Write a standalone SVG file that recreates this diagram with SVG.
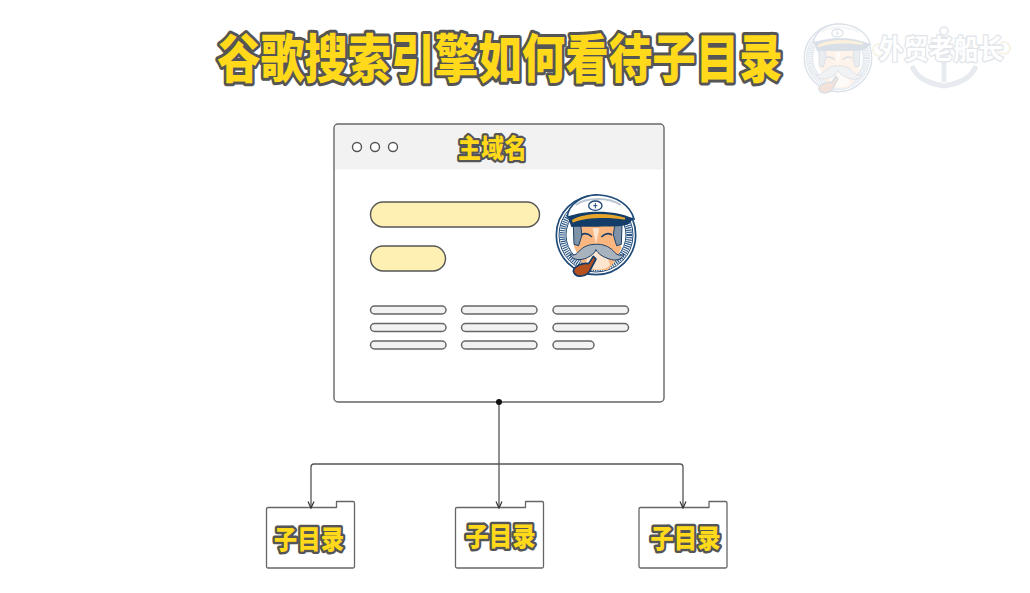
<svg xmlns="http://www.w3.org/2000/svg" width="1030" height="593" viewBox="0 0 1030 593">
<style>
text{font-family:"Noto Sans CJK SC","Noto Sans",sans-serif;font-weight:900;text-anchor:middle;paint-order:stroke;stroke-linejoin:round}
.hl{fill:#ffd91a;stroke:#555}
.t1{font-size:43.500px;stroke-width:5px}
.t2{font-size:23px;stroke-width:4px}
.t3{font-size:23.500px;stroke-width:4.500px}
.wm{font-size:25px;font-weight:700;fill:#fff;stroke:#e2e6ea;stroke-width:2.500px}
.win{fill:#fff;stroke:#666;stroke-width:1.400}
.dot{fill:#fff;stroke:#555;stroke-width:1.400}
.big{fill:#fdf0b2;stroke:#555;stroke-width:1.400}
.ln{fill:#f2f2f2;stroke:#666;stroke-width:1.500}
.folder{fill:#fff;stroke:#666;stroke-width:1.300;stroke-linejoin:round}
.conn{fill:none;stroke:#555;stroke-width:1.300}
</style>
<defs>
<marker id="arr" markerWidth="10" markerHeight="10" refX="8" refY="5" orient="auto" markerUnits="userSpaceOnUse">
<path d="M1.500,2 L8,5 L1.500,8" fill="none" stroke="#333" stroke-width="1.200"/>
</marker>
<g id="captain" transform="scale(.3333) translate(-150,-150)">
<circle cx="150" cy="150" r="119" fill="#fff" stroke="#1f4a78" stroke-width="5"/>
<circle cx="150" cy="150" r="111" fill="none" stroke="#1f4a78" stroke-width="3"/>
<circle cx="150" cy="150" r="100" fill="none" stroke="#2a5584" stroke-width="17" stroke-dasharray="3.500 3"/>
<circle cx="150" cy="150" r="90" fill="none" stroke="#1f4a78" stroke-width="3"/>
<path d="M88,122 L216,122 L226,190 L205,232 L185,255 L130,255 L102,225 L84,185Z" fill="#fbb77f"/>
<path d="M82,122 L104,122 L108,150 L98,182 L84,178Z M206,122 L228,122 L226,178 L212,182 L202,150Z" fill="#7f93a8" stroke="#1b3f68" stroke-width="3"/>
<path d="M125,198 C140,192 165,192 178,198 L192,240 C180,258 135,258 120,240Z" fill="#fde5cf"/>
<path d="M106,150 Q122,140 138,156 M166,156 Q182,140 198,150" fill="none" stroke="#1b3f68" stroke-width="5"/>
<path d="M140,130 L150,178 L160,130" fill="#fde5cf"/>
<path d="M148,178 C130,178 112,184 98,200 C88,212 78,212 72,206 C76,226 104,228 124,218 C136,212 146,204 150,194 C156,206 170,216 190,222 C208,228 226,226 234,208 C222,214 212,210 202,198 C190,184 168,176 148,178Z" fill="#a9b3bd" stroke="#1b3f68" stroke-width="3"/>
<path d="M64,96 C66,58 112,27 160,30 C212,33 254,62 264,102 C225,92 110,84 64,96Z" fill="#fff" stroke="#1f4a78" stroke-width="5"/>
<path d="M90,60 C120,36 190,36 224,60" fill="none" stroke="#b9c5d1" stroke-width="6"/>
<ellipse cx="148" cy="62" rx="20" ry="14" fill="#fff" stroke="#1f4a78" stroke-width="4"/>
<path d="M148,54 V70 M142,62 H154" stroke="#1f4a78" stroke-width="3"/>
<path d="M66,96 C110,74 215,74 262,102 L246,118 C235,128 110,124 76,126Z" fill="#143c68"/>
<path d="M78,105 C115,82 190,82 238,98 L236,104 C190,96 120,96 80,113Z" fill="#e7a52b"/>
<path d="M82,258 C84,244 110,232 128,236 L142,214 L150,222 L134,252 C126,276 88,282 82,258Z" fill="#b5501f" stroke="#143c68" stroke-width="5" stroke-linejoin="round"/>
</g>
</defs>
<g id="title"><text class="hl t1" transform="translate(500,78) scale(1,1.2)">谷歌搜索引擎如何看待子目录</text></g>
<g id="watermark">
<g opacity=".2" fill="none"><path d="M944,36 V82 M912,66 Q918,82 944,86 Q970,82 976,66" stroke="#8aa0b3" stroke-width="5"/><circle cx="944" cy="31" r="4" stroke="#8aa0b3" stroke-width="2"/><circle cx="879" cy="50" r="6" stroke="#e0c890" stroke-width="2"/><circle cx="1004" cy="48" r="6" stroke="#e0c890" stroke-width="2"/></g>
<use href="#captain" transform="translate(838,58) scale(.85)" opacity=".16"/>
<text class="wm" transform="translate(941,59) scale(1,1.1)">外贸老船长</text>
</g>
<g id="main-window">
<rect class="win" x="334" y="124" width="330" height="278" rx="4"/>
<path d="M335,169.500 V128 Q335,125 338,125 H660 Q663,125 663,128 V169.500Z" fill="#f2f2f2"/>
<circle class="dot" cx="357" cy="147" r="4.500"/>
<circle class="dot" cx="375" cy="147" r="4.500"/>
<circle class="dot" cx="393" cy="147" r="4.500"/>
<text class="hl t2" transform="translate(492.500,158) scale(1,1.12)">主域名</text>
<rect class="big" x="370.500" y="202" width="169" height="25" rx="12.500"/>
<rect class="big" x="370.500" y="246" width="75" height="25" rx="12.500"/>
<rect class="ln" x="370.500" y="306" width="75.500" height="8" rx="4"/>
<rect class="ln" x="461.500" y="306" width="75.500" height="8" rx="4"/>
<rect class="ln" x="553" y="306" width="75.500" height="8" rx="4"/>
<rect class="ln" x="370.500" y="323.500" width="75.500" height="8" rx="4"/>
<rect class="ln" x="461.500" y="323.500" width="75.500" height="8" rx="4"/>
<rect class="ln" x="553" y="323.500" width="75.500" height="8" rx="4"/>
<rect class="ln" x="370.500" y="341" width="75.500" height="8" rx="4"/>
<rect class="ln" x="461.500" y="341" width="75.500" height="8" rx="4"/>
<rect class="ln" x="553" y="341" width="41" height="8" rx="4"/>
<use href="#captain" transform="translate(596,235)"/>
</g>
<g id="folder-left">
<path class="folder" d="M266.500,509 Q266.500,507.500 268,507.500 H336.500 V501.500 H353 Q354.500,501.500 354.500,503 V566.500 Q354.500,568 353,568 H268 Q266.500,568 266.500,566.500Z"/>
<text class="hl t3" transform="translate(309,549) scale(1,1.12)">子目录</text>
</g>
<g id="folder-center">
<path class="folder" d="M455.500,509 Q455.500,507.500 457,507.500 H525.500 V501.500 H542 Q543.500,501.500 543.500,503 V566.500 Q543.500,568 542,568 H457 Q455.500,568 455.500,566.500Z"/>
<text class="hl t3" transform="translate(500.500,546) scale(1,1.12)">子目录</text>
</g>
<g id="folder-right">
<path class="folder" d="M639,509 Q639,507.500 640.500,507.500 H709 V501.500 H725.500 Q727,501.500 727,503 V566.500 Q727,568 725.500,568 H640.500 Q639,568 639,566.500Z"/>
<text class="hl t3" transform="translate(685.500,547.500) scale(1,1.12)">子目录</text>
</g>
<g id="connectors">
<path class="conn" d="M499,402 V508" marker-end="url(#arr)"/>
<path class="conn" d="M499,464 H314 Q311,464 311,467 V508" marker-end="url(#arr)"/>
<path class="conn" d="M499,464 H680 Q683,464 683,467 V508" marker-end="url(#arr)"/>
<circle cx="499" cy="402" r="3" fill="#111"/>
</g>
</svg>
